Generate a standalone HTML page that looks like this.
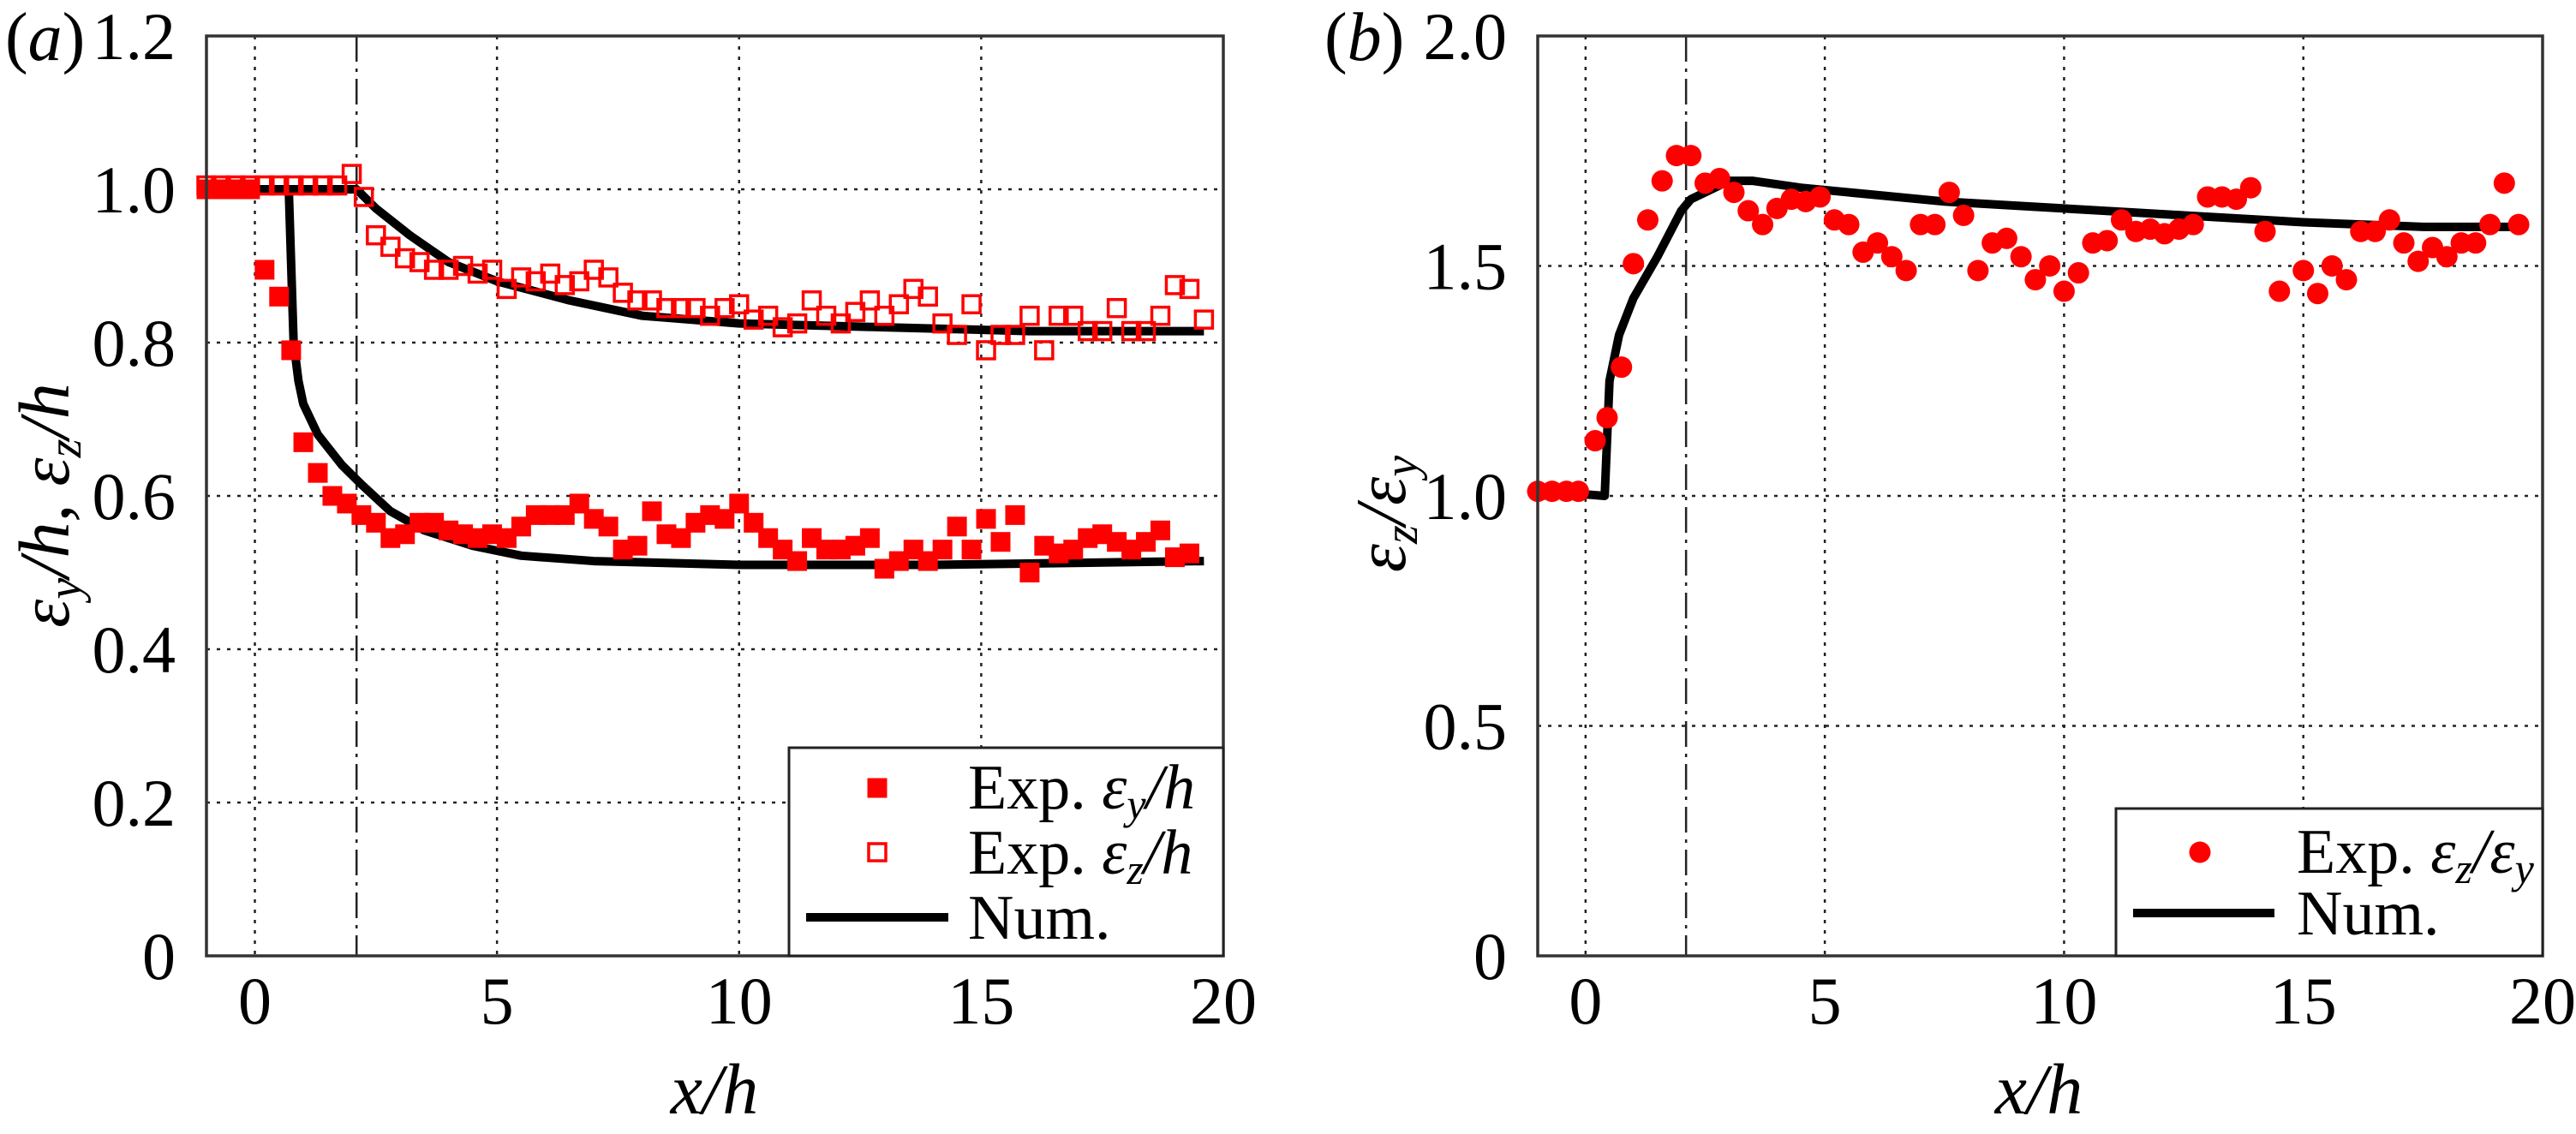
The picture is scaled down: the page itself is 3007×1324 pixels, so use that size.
<!DOCTYPE html>
<html><head><meta charset="utf-8"><style>
html,body{margin:0;padding:0;background:#fff;overflow:hidden}
svg{display:block}
text{font-family:"Liberation Serif",serif;fill:#000}
.it{font-style:italic}
</style></head><body>
<svg id="chart" width="3007" height="1324" viewBox="0 0 3007 1324" xmlns="http://www.w3.org/2000/svg">
<g id="pa"></g>
<g id="pb"></g>
<text x="6" y="70" font-size="80">(<tspan class="it">a</tspan>)</text>
<text x="1546" y="70" font-size="80">(<tspan class="it">b</tspan>)</text>
<text x="834" y="1300" font-size="84" text-anchor="middle" class="it">x/h</text>
<text transform="translate(80,590) rotate(-90)" font-size="84" text-anchor="middle" class="it">ε<tspan font-size="56" dy="14">y</tspan><tspan dy="-14">/h, ε</tspan><tspan font-size="56" dy="14">z</tspan><tspan dy="-14">/h</tspan></text>
<text x="2380" y="1300" font-size="84" text-anchor="middle" class="it">x/h</text>
<text transform="translate(1640,600) rotate(-90)" font-size="84" text-anchor="middle" class="it">ε<tspan font-size="56" dy="14">z</tspan><tspan dy="-14">/ε</tspan><tspan font-size="56" dy="14">y</tspan></text>
<g>
  <rect x="921" y="873" width="507" height="243" fill="#fff" stroke="#222" stroke-width="3"/>
  <rect x="1012.5" y="908.5" width="23" height="23" fill="#f00"/>
  <text x="1130" y="944" font-size="74">Exp. <tspan class="it">ε</tspan><tspan class="it" font-size="50" dy="12">y</tspan><tspan class="it" dy="-12">/h</tspan></text>
  <rect x="1014" y="985" width="20" height="20" fill="none" stroke="#f00" stroke-width="3.5"/>
  <text x="1130" y="1020" font-size="74">Exp. <tspan class="it">ε</tspan><tspan class="it" font-size="50" dy="12">z</tspan><tspan class="it" dy="-12">/h</tspan></text>
  <line x1="941" x2="1107" y1="1071" y2="1071" stroke="#000" stroke-width="10"/>
  <text x="1130" y="1096" font-size="74">Num.</text>
</g>
<g>
  <rect x="2470" y="944" width="498" height="172" fill="#fff" stroke="#222" stroke-width="3"/>
  <circle cx="2568" cy="995" r="12.5" fill="#f00"/>
  <text x="2681" y="1019" font-size="74">Exp. <tspan class="it">ε</tspan><tspan class="it" font-size="50" dy="12">z</tspan><tspan class="it" dy="-12">/ε</tspan><tspan class="it" font-size="50" dy="12">y</tspan></text>
  <line x1="2490" x2="2655" y1="1066" y2="1066" stroke="#000" stroke-width="10"/>
  <text x="2681" y="1091" font-size="74">Num.</text>
</g>
</svg>
<script>
// Panel (a) data
const aXTicks = [0,5,10,15,20];
const aYTicks = [0,0.2,0.4,0.6,0.8,1.0,1.2];
const aYTickLabels = ["0","0.2","0.4","0.6","0.8","1.0","1.2"];
const eyX = [-1,-0.7,-0.4,-0.1,0.2,0.5,0.75,1.0,1.3,1.6,1.9,2.2,2.5,2.8,3.1,3.4,3.7,4.0,4.3,4.6,4.9,5.2,5.5,5.8,6.1,6.4,6.7,7.0,7.3,7.6,7.9,8.2,8.5,8.8,9.1,9.4,9.7,10.0,10.3,10.6,10.9,11.2,11.5,11.8,12.1,12.4,12.7,13.0,13.3,13.6,13.9,14.2,14.5,14.8,15.1,15.4,15.7,16.0,16.3,16.6,16.9,17.2,17.5,17.8,18.1,18.4,18.7,19.0,19.3];
const eyY = [1.0,1.0,1.0,1.0,0.895,0.86,0.79,0.67,0.63,0.60,0.59,0.575,0.565,0.545,0.55,0.565,0.565,0.555,0.55,0.545,0.55,0.545,0.56,0.575,0.575,0.575,0.59,0.57,0.56,0.53,0.535,0.58,0.55,0.545,0.565,0.575,0.57,0.59,0.565,0.545,0.53,0.515,0.545,0.53,0.53,0.535,0.545,0.505,0.515,0.53,0.515,0.53,0.56,0.53,0.57,0.54,0.575,0.50,0.535,0.525,0.53,0.545,0.55,0.54,0.53,0.54,0.555,0.52,0.525];
const ezX = [-1,-0.7,-0.4,-0.1,0.2,0.5,0.8,1.1,1.4,1.7,2.0,2.25,2.5,2.8,3.1,3.4,3.7,4.0,4.3,4.6,4.9,5.2,5.5,5.8,6.1,6.4,6.7,7.0,7.3,7.6,7.9,8.2,8.5,8.8,9.1,9.4,9.7,10.0,10.3,10.6,10.9,11.2,11.5,11.8,12.1,12.4,12.7,13.0,13.3,13.6,13.9,14.2,14.5,14.8,15.1,15.4,15.7,16.0,16.3,16.6,16.9,17.2,17.5,17.8,18.1,18.4,18.7,19.0,19.3,19.6];
const ezY = [1.005,1.005,1.005,1.005,1.005,1.005,1.005,1.005,1.005,1.005,1.02,0.99,0.94,0.925,0.91,0.905,0.895,0.895,0.9,0.89,0.895,0.87,0.885,0.88,0.89,0.875,0.88,0.895,0.885,0.865,0.855,0.855,0.845,0.845,0.845,0.835,0.845,0.85,0.83,0.835,0.82,0.825,0.855,0.835,0.825,0.84,0.855,0.835,0.85,0.87,0.86,0.825,0.81,0.85,0.79,0.81,0.81,0.835,0.79,0.835,0.835,0.815,0.815,0.845,0.815,0.815,0.835,0.875,0.87,0.83];
const numEyX = [-1,0.7,0.75,0.8,0.9,1.0,1.3,1.8,2.2,2.8,3.5,4.5,5.5,7,10,14,19.6];
const numEyY = [1.0,1.0,0.9,0.8,0.75,0.72,0.68,0.64,0.615,0.58,0.555,0.535,0.522,0.515,0.51,0.51,0.515];
const numEzX = [-1,2.1,2.5,3.2,4,5,6.5,8,10,13,16,19.6];
const numEzY = [1.0,1.0,0.975,0.94,0.905,0.88,0.855,0.835,0.825,0.82,0.815,0.815];
// Panel (b) data
const bYTicks = [0,0.5,1.0,1.5,2.0];
const bYTickLabels = ["0","0.5","1.0","1.5","2.0"];
const rX = [-1,-0.7,-0.4,-0.15,0.2,0.45,0.75,1.0,1.3,1.6,1.9,2.2,2.5,2.8,3.1,3.4,3.7,4.0,4.3,4.6,4.9,5.2,5.5,5.8,6.1,6.4,6.7,7.0,7.3,7.6,7.9,8.2,8.5,8.8,9.1,9.4,9.7,10.0,10.3,10.6,10.9,11.2,11.5,11.8,12.1,12.4,12.7,13.0,13.3,13.6,13.9,14.2,14.5,15.0,15.3,15.6,15.9,16.2,16.5,16.8,17.1,17.4,17.7,18.0,18.3,18.6,18.9,19.2,19.5];
const rY = [1.01,1.01,1.01,1.01,1.12,1.17,1.28,1.505,1.6,1.685,1.74,1.74,1.68,1.69,1.66,1.62,1.59,1.625,1.645,1.64,1.65,1.60,1.59,1.53,1.55,1.52,1.49,1.59,1.59,1.66,1.61,1.49,1.55,1.56,1.52,1.47,1.50,1.445,1.485,1.55,1.555,1.60,1.575,1.58,1.57,1.58,1.59,1.65,1.65,1.645,1.67,1.575,1.445,1.49,1.44,1.50,1.47,1.575,1.575,1.60,1.55,1.51,1.54,1.52,1.55,1.55,1.59,1.68,1.59];
const numRX = [-1,-0.2,0.4,0.5,0.7,1.0,1.5,2.0,2.2,2.6,3.0,3.5,4.5,6,7.5,10,12.5,15,17.5,19.5];
const numRY = [1.0,1.005,1.0,1.25,1.35,1.43,1.52,1.62,1.645,1.665,1.685,1.685,1.67,1.655,1.64,1.625,1.61,1.595,1.585,1.585];

const NS="http://www.w3.org/2000/svg";
function mk(parent, tag, attrs){const e=document.createElementNS(NS,tag);for(const k in attrs)e.setAttribute(k,attrs[k]);parent.appendChild(e);return e;}
const T=42, B=1116;

function panel(g, L, R, yMax, yTicks, yLabels){
  const sx=v=>L+(v+1)/21*(R-L);
  const sy=v=>B-v/yMax*(B-T);
  for(const t of aXTicks){ if(t===20) continue;
    const l=mk(g,'line',{x1:sx(t),x2:sx(t),y1:T,y2:B,stroke:'#222','stroke-width':2.5,'stroke-dasharray':'4 8'});
    
    
  }
  yTicks.forEach((t,i)=>{ if(i>0 && i<yTicks.length-1){
    const l=mk(g,'line',{x1:L,x2:R,y1:sy(t),y2:sy(t),stroke:'#222','stroke-width':2.5,'stroke-dasharray':'4 8'});
    
    
  }});
  const d=mk(g,'line',{x1:sx(2.1),x2:sx(2.1),y1:T,y2:B,stroke:'#222','stroke-width':2.5,'stroke-dasharray':'30 8 4 8'});
  
  
  for(const t of aXTicks){
    const tx=mk(g,'text',{x:sx(t),y:1195,'font-size':78,'text-anchor':'middle'});
    tx.textContent=String(t);
    
    
  }
  yTicks.forEach((t,i)=>{
    const tx=mk(g,'text',{x:L-36,y:sy(t)+27,'font-size':78,'text-anchor':'end'});
    tx.textContent=yLabels[i];
    
    
  });
  return {sx,sy};
}
function line(g,xs,ys,sx,sy,name){
  const p=mk(g,'polyline',{points:xs.map((x,i)=>sx(x)+','+sy(ys[i])).join(' '),fill:'none',stroke:'#000','stroke-width':10,'stroke-linejoin':'round'});
  
  
}
function frame(g,L,R){
  const r=mk(g,'rect',{x:L,y:T,width:R-L,height:B-T,fill:'none',stroke:'#333','stroke-width':3.5});
  
  
}

const ga=document.getElementById('pa');
{
  const L=241,R=1428;
  const {sx,sy}=panel(ga,L,R,1.2,aYTicks,aYTickLabels);
  line(ga,numEyX,numEyY,sx,sy,'num-ey-line');
  line(ga,numEzX,numEzY,sx,sy,'num-ez-line');
  eyX.forEach((x,i)=>{
    const r=mk(ga,'rect',{x:sx(x)-11.5,y:sy(eyY[i])-11.5,width:23,height:23,fill:'#f00'});
    
    
  });
  ezX.forEach((x,i)=>{
    const r=mk(ga,'rect',{x:sx(x)-10,y:sy(ezY[i])-10,width:20,height:20,fill:'none',stroke:'#f00','stroke-width':3.5});
    
    
  });
  frame(ga,L,R);
}
const gb=document.getElementById('pb');
{
  const L=1795,R=2968;
  const {sx,sy}=panel(gb,L,R,2.0,bYTicks,bYTickLabels);
  line(gb,numRX,numRY,sx,sy,'num-ratio-line');
  rX.forEach((x,i)=>{
    const c=mk(gb,'circle',{cx:sx(x),cy:sy(rY[i]),r:12.5,fill:'#f00'});
    
    
  });
  frame(gb,L,R);
}
</script>
</body></html>
